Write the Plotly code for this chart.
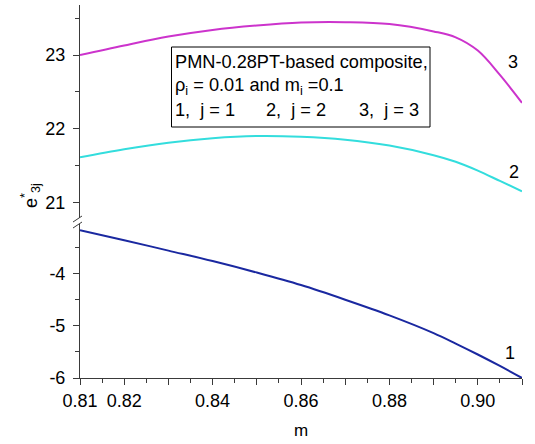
import plotly.graph_objects as go

m = [0.81, 0.82, 0.83, 0.84, 0.85, 0.86, 0.87, 0.88, 0.89, 0.895, 0.90, 0.905, 0.91]
e31 = [-3.17, -3.36, -3.56, -3.76, -3.98, -4.22, -4.50, -4.80, -5.14, -5.34, -5.55, -5.77, -6.00]
e32 = [21.61, 21.72, 21.81, 21.87, 21.90, 21.89, 21.85, 21.77, 21.64, 21.55, 21.43, 21.29, 21.15]
e33 = [23.00, 23.13, 23.25, 23.34, 23.40, 23.44, 23.445, 23.42, 23.32, 23.24, 23.06, 22.73, 22.35]

xtick_vals = [0.81, 0.82, 0.83, 0.84, 0.85, 0.86, 0.87, 0.88, 0.89, 0.90, 0.91]
xtick_text = ["0.81", "0.82", "", "0.84", "", "0.86", "", "0.88", "", "0.90", ""]
upper_ticks = [21, 22, 23]
upper_text = ["21", "22", "23"]
lower_ticks = [-6, -5, -4]
lower_text = ["-6", "-5", "-4"]

W, H = 535, 444
L, R, T, B = 80, 13, 5, 66
pw, ph = W - L - R, H - T - B

def px(xp):
    return (xp - L) / pw

def py(yp):
    return (H - B - yp) / ph

FONT = "Liberation Sans, Arial, sans-serif"
AX = "#3a3a3a"

fig = go.Figure()
fig.add_trace(go.Scatter(x=m, y=e31, mode="lines", line=dict(color="#1A28A0", width=2, shape="spline"),
                         yaxis="y", showlegend=False, hoverinfo="skip"))
fig.add_trace(go.Scatter(x=m, y=e32, mode="lines", line=dict(color="#33DDDD", width=2, shape="spline"),
                         yaxis="y2", showlegend=False, hoverinfo="skip"))
fig.add_trace(go.Scatter(x=m, y=e33, mode="lines", line=dict(color="#CC33CC", width=2, shape="spline"),
                         yaxis="y2", showlegend=False, hoverinfo="skip"))

up_lo, up_hi = py(218), 1.0
lo_lo, lo_hi = 0.0, py(224)
up_min = 21 - (218 - 202.3) / 73.65
up_max = up_min + (up_hi - up_lo) * ph / 73.65
lo_max = -6 + (lo_hi - lo_lo) * ph / 52.2

common_y = dict(tickmode="array", ticks="outside", ticklen=6, tickcolor=AX, showline=True,
                linecolor=AX, linewidth=1, showgrid=False, zeroline=False, anchor="x",
                automargin=False, ticklabelstandoff=4, tickfont=dict(size=18))

fig.update_layout(
    width=W, height=H,
    margin=dict(l=L, r=R, t=T, b=B, pad=0),
    paper_bgcolor="white", plot_bgcolor="white",
    font=dict(family=FONT, size=18, color="black"),
    xaxis=dict(range=[0.81, 0.91], tickmode="array", tickvals=xtick_vals, ticktext=xtick_text,
               ticks="outside", ticklen=6, tickcolor=AX, showline=True, linecolor=AX, linewidth=1,
               showgrid=False, zeroline=False, anchor="y", automargin=False,
               tickfont=dict(size=18), ticklabelstandoff=0,
               minor=dict(dtick=0.005, tick0=0.81, ticks="outside", ticklen=4, tickcolor=AX)),
    yaxis=dict(domain=[lo_lo, lo_hi], range=[-6, lo_max], tickvals=lower_ticks, ticktext=lower_text,
               minor=dict(dtick=0.5, tick0=-6, ticks="outside", ticklen=4, tickcolor=AX),
               **common_y),
    yaxis2=dict(domain=[up_lo, up_hi], range=[up_min, up_max], tickvals=upper_ticks, ticktext=upper_text,
                minor=dict(dtick=0.5, tick0=21, ticks="outside", ticklen=4, tickcolor=AX),
                **common_y),
)

# axis break slashes
for off in (0, 6):
    fig.add_shape(type="line", xref="paper", yref="paper",
                  x0=px(73), y0=py(222 + off), x1=px(82), y1=py(216 + off),
                  line=dict(color=AX, width=1))

# info box
fig.add_shape(type="rect", xref="paper", yref="paper", x0=px(171.5), x1=px(430), y0=py(127), y1=py(47),
              line=dict(color="black", width=1), fillcolor="white", layer="above")
fig.add_annotation(xref="paper", yref="paper", x=px(173), y=py(62), text="PMN-0.28PT-based composite,",
                   showarrow=False, xanchor="left", yanchor="middle", font=dict(size=18.2))
fig.add_annotation(xref="paper", yref="paper", x=px(173), y=py(86),
                   text="ρ<sub>i</sub> = 0.01 and m<sub>i</sub> =0.1",
                   showarrow=False, xanchor="left", yanchor="middle", font=dict(size=18.2))
for xp, t in [(173, "1,\u00a0 j = 1"), (264, "2,\u00a0 j = 2"), (357, "3,\u00a0 j = 3")]:
    fig.add_annotation(xref="paper", yref="paper", x=px(xp), y=py(110), text=t,
                       showarrow=False, xanchor="left", yanchor="middle", font=dict(size=18.2))

# curve labels
for xp, yp, t in [(513, 62, "3"), (514, 172, "2"), (510, 353, "1")]:
    fig.add_annotation(xref="paper", yref="paper", x=px(xp), y=py(yp), text=t,
                       showarrow=False, xanchor="center", yanchor="middle", font=dict(size=18))

# axis titles
fig.add_annotation(xref="paper", yref="paper", x=px(301), y=py(430), text="m",
                   showarrow=False, xanchor="center", yanchor="middle", font=dict(size=17))
fig.add_annotation(xref="paper", yref="paper", x=px(30), y=py(196),
                   text="e<sup>*</sup><sub>3j</sub>", textangle=-90,
                   showarrow=False, xanchor="center", yanchor="middle", font=dict(size=18))

fig.write_html("out.html", config={"displayModeBar": False, "staticPlot": True},
               post_script="document.body.style.margin='0px';")
